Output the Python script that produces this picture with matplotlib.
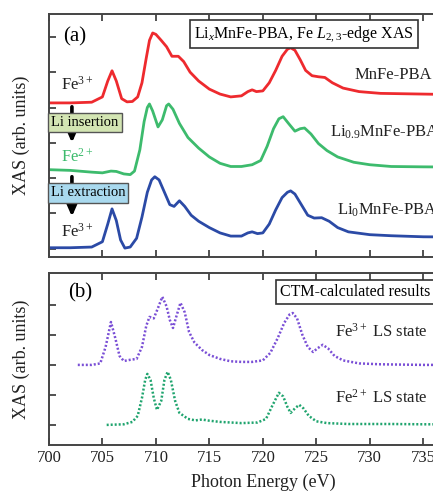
import matplotlib
matplotlib.use('Agg')
import numpy as np
import matplotlib.pyplot as plt

plt.rcParams['font.family'] = ['Liberation Serif', 'DejaVu Serif']
plt.rcParams['mathtext.fontset'] = 'custom'
plt.rcParams['mathtext.rm'] = 'Liberation Serif'
plt.rcParams['mathtext.it'] = 'Liberation Serif:italic'

fs = 12

# (a) measured XAS, energy (eV) and intensity (arb. units, stacked)
e_red = [700, 702, 704, 705, 705.5, 705.9, 706.3, 706.8, 707.3, 707.8, 708.3, 708.7, 709.1, 709.4,
         709.7, 710.0, 710.5, 711.0, 711.5, 712.1, 712.6, 713.2, 714, 715, 716, 717, 718, 718.6,
         719, 719.4, 720, 720.6, 721.2, 721.8, 722.3, 722.6, 723.0, 723.5, 724, 724.6, 725.2,
         725.8, 726.5, 727.5, 729, 731, 733, 735, 737, 740]
y_red = [4.13, 4.13, 4.15, 4.3, 4.75, 5.04, 4.75, 4.25, 4.16, 4.17, 4.3, 4.7, 5.4, 5.9,
         6.11, 6.07, 5.9, 5.72, 5.45, 5.45, 5.3, 5.0, 4.75, 4.52, 4.38, 4.3, 4.33, 4.45,
         4.5, 4.45, 4.47, 4.7, 5.05, 5.45, 5.65, 5.69, 5.62, 5.35, 5.05, 4.9, 4.87,
         4.85, 4.7, 4.55, 4.45, 4.4, 4.39, 4.38, 4.37, 4.37]

e_grn = [700, 702, 704, 705, 705.8, 706.3, 707, 707.6, 708, 708.5, 708.9, 709.2, 709.4, 709.7,
         710.2, 710.6, 711.0, 711.2, 711.6, 712.2, 713, 714, 715, 716, 717, 718, 719, 719.8,
         720.4, 721, 721.5, 721.9, 722.4, 723.0, 723.5, 723.9, 724.5, 725.2, 726, 727, 728.5,
         730, 732, 735, 740]
y_grn = [2.24, 2.22, 2.17, 2.15, 2.2, 2.19, 2.12, 2.1, 2.2, 2.8, 3.6, 4.0, 4.1, 3.9,
         3.45, 3.65, 4.05, 4.1, 3.95, 3.55, 3.15, 2.85, 2.6, 2.42, 2.33, 2.33, 2.38, 2.5,
         2.9, 3.4, 3.68, 3.74, 3.55, 3.33, 3.4, 3.42, 3.25, 2.98, 2.78, 2.6, 2.45,
         2.38, 2.33, 2.32, 2.31]

e_blu = [700, 702, 704, 705, 705.5, 705.9, 706.3, 706.7, 707.1, 707.6, 708.2, 708.7, 709.2, 709.6,
         709.9, 710.3, 710.8, 711.3, 711.7, 712.2, 712.7, 713.3, 714, 715, 716, 717, 718, 718.6,
         719, 719.5, 720, 720.6, 721.2, 721.8, 722.3, 722.6, 723, 723.6, 724.2, 724.8, 725.5,
         726.2, 727, 728, 730, 732, 735, 740]
y_blu = [0.03, 0.03, 0.05, 0.2, 0.7, 1.13, 0.8, 0.25, 0.02, 0.05, 0.3, 0.9, 1.6, 1.95,
         2.04, 1.95, 1.6, 1.25, 1.2, 1.36, 1.2, 0.95, 0.78, 0.6, 0.45, 0.36, 0.36, 0.45,
         0.48, 0.43, 0.45, 0.7, 1.1, 1.45, 1.6, 1.64, 1.55, 1.25, 0.95, 0.87, 0.88,
         0.78, 0.6, 0.48, 0.4, 0.37, 0.34, 0.33]

# (b) CTM calculations
e_fe3 = [702.7, 704, 704.8, 705.3, 705.8, 706.2, 706.6, 707.0, 707.6, 708.2, 708.7, 709.1, 709.4,
         709.8, 710.2, 710.6, 711.0, 711.3, 711.6, 711.9, 712.3, 712.7, 713.1, 713.6, 714.3, 715,
         716, 717, 718, 719, 720, 720.7, 721.4, 722.0, 722.5, 722.8, 723.2, 723.7, 724.2, 724.7,
         725.1, 725.6, 726.1, 726.7, 727.5, 729, 731, 735, 740]
y_fe3 = [2.0, 2.0, 2.05, 2.6, 3.43, 2.9, 2.3, 2.13, 2.17, 2.2, 2.6, 3.3, 3.6,
         3.55, 3.9, 4.27, 3.95, 3.5, 3.23, 3.6, 4.07, 3.75, 3.1, 2.75, 2.5, 2.33,
         2.2, 2.12, 2.1, 2.1, 2.15, 2.4, 2.9, 3.4, 3.68, 3.73, 3.55, 3.0, 2.6, 2.43,
         2.55, 2.67, 2.55, 2.3, 2.15, 2.05, 2.02, 2.0, 2.0]

e_fe2 = [705.4, 707, 707.8, 708.3, 708.7, 709.0, 709.2, 709.5, 709.8, 710.1, 710.5, 710.8, 711.1,
         711.4, 711.8, 712.2, 713, 713.7, 714.3, 715, 716, 718, 719.5, 720.3, 720.9, 721.5,
         721.9, 722.3, 722.6, 723.0, 723.4, 723.8, 724.3, 725, 726, 728, 732, 735, 740]
y_fe2 = [0.0, 0.02, 0.1, 0.3, 0.9, 1.5, 1.7, 1.5, 0.9, 0.5, 0.8, 1.5, 1.77,
         1.5, 0.8, 0.4, 0.2, 0.15, 0.18, 0.14, 0.1, 0.06, 0.08, 0.2, 0.65, 1.07,
         0.95, 0.6, 0.4, 0.55, 0.67, 0.55, 0.3, 0.12, 0.06, 0.03, 0.03, 0.02, 0.02]

xticks = [700, 705, 710, 715, 720, 725, 730, 735]

fig = plt.figure(figsize=(4.33, 4.96), dpi=100)
ax1 = fig.add_axes([0.113, 0.482, 0.988, 0.490])
ax2 = fig.add_axes([0.113, 0.103, 0.988, 0.347])

for ax in [ax1, ax2]:
    ax.set_xlim(700, 740)
    ax.set_xticks(xticks)
    ax.tick_params(direction='in', top=True, right=True, length=5, width=1.2,
                   labelsize=fs, colors='#333333', labelcolor='#222222')
    ax.set_yticklabels([])
    for s in ax.spines.values():
        s.set_linewidth(1.4)
        s.set_color('#444444')
    ax.set_ylabel('XAS (arb. units)', fontsize=13, labelpad=10, color='#222222')

ax1.set_ylim(-0.23, 6.65)
ax1.set_yticks(np.arange(0, 7))
ax1.set_xticklabels([])
ax2.set_ylim(-0.667, 5.07)
ax2.set_yticks(np.arange(0, 5))
ax2.set_xlabel('Photon Energy (eV)', fontsize=13, labelpad=6, color='#222222')

ax1.plot(e_red, y_red, color='#ee2a2e', lw=2)
ax1.plot(e_grn, y_grn, color='#3dbb6d', lw=2)
ax1.plot(e_blu, y_blu, color='#2b4aa6', lw=2)

ax2.plot(e_fe3, y_fe3, color='#7a4fd6', lw=1.8, ls=(0, (0.8, 0.8)))
ax2.plot(e_fe2, y_fe2, color='#1fa46e', lw=1.8, ls=(0, (0.8, 0.8)))

# panel (a) annotations
ax1.text(702.4, 6.0, '(a)', fontsize=15, ha='center', va='center')
ax1.text(723.85, 6.09, r'Li$_x$MnFe-PBA, Fe $L_{2,3}$-edge XAS', fontsize=11.5,
         ha='center', va='center',
         bbox=dict(boxstyle='square,pad=0.25', fc='white', ec='#333333', lw=1.2))
ax1.text(728.6, 4.92, 'MnFe-PBA', fontsize=fs, ha='left', va='center', color='#222222')
ax1.text(726.3, 3.31, r'Li$_{0.9}$MnFe-PBA', fontsize=fs, ha='left', va='center', color='#222222')
ax1.text(726.9, 1.08, r'Li$_0$MnFe-PBA', fontsize=fs, ha='left', va='center', color='#222222')

ax1.text(702.6, 4.5, r'Fe$^{3+}$', fontsize=fs, ha='center', va='baseline', color='#222222')
ax1.text(702.6, 2.46, r'Fe$^{2+}$', fontsize=fs, ha='center', va='baseline', color='#3dbb6d')
ax1.text(702.6, 0.34, r'Fe$^{3+}$', fontsize=fs, ha='center', va='baseline', color='#222222')

arrow = dict(arrowstyle='-|>,head_length=0.8,head_width=0.35', color='black', lw=2.6,
             mutation_scale=12, shrinkA=0, shrinkB=0)
ax1.annotate('', xy=(702.15, 3.0), xytext=(702.15, 4.02), arrowprops=arrow)
ax1.annotate('', xy=(702.15, 0.91), xytext=(702.15, 2.04), arrowprops=arrow)
ax1.text(703.37, 3.58, 'Li insertion', fontsize=10.5, ha='center', va='center', zorder=5,
         bbox=dict(boxstyle='square,pad=0.22', fc='#d3e5b3', ec='#555555', lw=1))
ax1.text(703.65, 1.58, 'Li extraction', fontsize=10.5, ha='center', va='center', zorder=5,
         bbox=dict(boxstyle='square,pad=0.22', fc='#a9d9ee', ec='#555555', lw=1))

# panel (b) annotations
ax2.text(702.9, 4.4, '(b)', fontsize=15, ha='center', va='center')
ax2.text(721.6, 4.43, 'CTM-calculated results', fontsize=11.5, ha='left', va='center',
         bbox=dict(boxstyle='square,pad=0.25', fc='white', ec='#333333', lw=1.2))
ax2.text(726.75, 3.1, r'Fe$^{3+}$ LS state', fontsize=fs, ha='left', va='center', color='#222222')
ax2.text(726.75, 0.9, r'Fe$^{2+}$ LS state', fontsize=fs, ha='left', va='center', color='#222222')

plt.savefig('out.png', dpi=100)
